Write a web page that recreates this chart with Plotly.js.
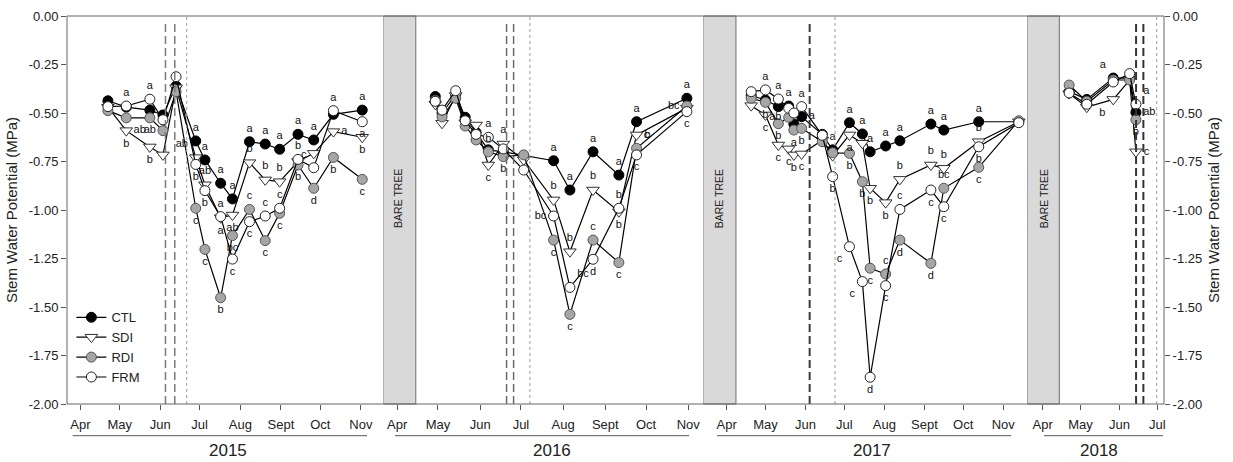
<!DOCTYPE html>
<html><head><meta charset="utf-8">
<script src="https://cdn.plot.ly/plotly-3.0.1.min.js"></script>
<style>body{margin:0;background:#fff}#chart{width:1233px;height:462px}</style>
</head><body><div id="chart"></div>
<script>
// ---------------- DATA ----------------
const monthNames = ['Apr','May','Jun','Jul','Aug','Sept','Oct','Nov'];
const monthNames2018 = ['Apr','May','Jun','Jul'];
const years = ['2015','2016','2017','2018'];
const yTicks = [0,-0.25,-0.5,-0.75,-1,-1.25,-1.5,-1.75,-2];
const yTickText = ['0.00','-0.25','-0.50','-0.75','-1.00','-1.25','-1.50','-1.75','-2.00'];

// 2015
const dates2015 = ['2015-04-22','2015-05-06','2015-05-24','2015-06-03','2015-06-13','2015-06-28','2015-07-05','2015-07-17','2015-07-26','2015-08-08','2015-08-20','2015-08-31','2015-09-14','2015-09-26','2015-10-11','2015-11-02'];
const ctl2015 = [-0.437,-0.47,-0.485,-0.51,-0.361,-0.644,-0.742,-0.862,-0.943,-0.648,-0.66,-0.687,-0.61,-0.639,-0.507,-0.485];
const sdi2015 = [-0.47,-0.591,-0.675,-0.716,-0.37,-0.73,-0.87,-1.04,-1.026,-0.756,-0.845,-0.854,-0.75,-0.708,-0.596,-0.625];
const rdi2015 = [-0.488,-0.525,-0.525,-0.591,-0.39,-0.991,-1.203,-1.452,-1.132,-0.997,-1.158,-1.017,-0.768,-0.888,-0.729,-0.842];
const frm2015 = [-0.467,-0.464,-0.429,-0.535,-0.313,-0.765,-0.90,-1.034,-1.253,-1.06,-1.031,-0.991,-0.739,-0.782,-0.488,-0.545];
const ctlLab2015 = ['','','','','','a','a','a','a','a','a','a','a','a','','a'];
const sdiLab2015 = ['','b','b','','','ab','ab','a','ab','b','b','b','','b','a','b'];
const rdiLab2015 = ['','ab','ab','','','c','c','b','bc','c','c','c','b','d','b','c'];
const frmLab2015 = ['','a','a','','','b','b','a','c','c','c','c','b','c','a','a'];

// 2016
const dates2016 = ['2016-04-29','2016-05-04','2016-05-14','2016-05-21','2016-05-29','2016-06-07','2016-06-18','2016-07-03','2016-07-25','2016-08-06','2016-08-23','2016-09-11','2016-09-24','2016-10-31'];
const ctl2016 = [-0.415,-0.50,-0.405,-0.522,-0.60,-0.69,-0.70,-0.72,-0.746,-0.897,-0.70,-0.82,-0.545,-0.424];
const sdi2016 = [-0.455,-0.553,-0.41,-0.55,-0.562,-0.768,-0.66,-0.742,-0.948,-1.215,-0.897,-1.009,-0.613,-0.475];
const rdi2016 = [-0.435,-0.52,-0.424,-0.567,-0.639,-0.70,-0.725,-0.716,-1.155,-1.538,-1.155,-1.271,-0.682,-0.464];
const frm2016 = [-0.44,-0.485,-0.385,-0.54,-0.61,-0.625,-0.685,-0.794,-1.031,-1.399,-1.254,-0.991,-0.716,-0.493];
const ctlLab2016 = ['','','','','','','','','a','a','a','a','a','a'];
const sdiLab2016 = ['','','','','','c','a','','b','b','b','b','b',''];
const rdiLab2016 = ['','','','','','b','b','','c','c','c','c','c','bc'];
const frmLab2016 = ['','','','','','a','','','bc','bc','d','b','c','c'];

// 2017
const dates2017 = ['2017-04-20','2017-05-01','2017-05-11','2017-05-19','2017-05-23','2017-05-29','2017-06-14','2017-06-22','2017-07-05','2017-07-15','2017-07-21','2017-08-02','2017-08-13','2017-09-06','2017-09-16','2017-10-13','2017-11-13'];
const ctl2017 = [-0.41,-0.433,-0.467,-0.464,-0.557,-0.519,-0.61,-0.69,-0.55,-0.608,-0.70,-0.67,-0.643,-0.557,-0.588,-0.545,-0.545];
const sdi2017 = [-0.462,-0.51,-0.665,-0.685,-0.716,-0.711,-0.64,-0.72,-0.613,-0.656,-0.888,-0.962,-0.842,-0.768,-0.785,-0.648,-0.545];
const rdi2017 = [-0.424,-0.445,-0.555,-0.522,-0.588,-0.579,-0.648,-0.705,-0.708,-0.854,-1.30,-1.33,-1.155,-1.275,-0.888,-0.78,-0.54];
const frm2017 = [-0.39,-0.381,-0.428,-0.476,-0.50,-0.467,-0.615,-0.828,-1.189,-1.369,-1.862,-1.39,-0.997,-0.897,-0.983,-0.674,-0.55];
const ctlLab2017 = ['','','','a','','a','','a','a','a','a','a','a','a','a','a',''];
const sdiLab2017 = ['','c','c','c','b','c','','','a','','b','b','b','b','b','b',''];
const rdiLab2017 = ['','b','b','ab','a','b','','','b','b','c','c','d','d','bc','c',''];
const frmLab2017 = ['','a','a','','','a','','b','c','c','d','c','c','c','c','b',''];

// 2018
const dates2018 = ['2018-04-22','2018-05-06','2018-05-27','2018-06-09','2018-06-14'];
const ctl2018 = [-0.39,-0.43,-0.32,-0.32,-0.497];
const sdi2018 = [-0.40,-0.47,-0.43,-0.33,-0.70];
const rdi2018 = [-0.356,-0.44,-0.33,-0.33,-0.535];
const frm2018 = [-0.397,-0.455,-0.34,-0.297,-0.455];
const ctlLab2018 = ['','','a','','ab'];
const sdiLab2018 = ['','','b','','c'];
const rdiLab2018 = ['','','','','b'];
const frmLab2018 = ['','','','','a'];

// ---------------- STYLE (label placement codes) ----------------
const P = {
  ctl2015: Array(16).fill('t'),
  sdi2015: ['b','b','b','b','b','tl','t','b','b','t','t','t','t','t','r','b'],
  rdi2015: ['b','br','b','b','b','b','b','b','b','t','b','b','b','b','b','b'],
  frm2015: ['t','t','t','t','t','b','b','t','b','b','t','t','t','tl','t','b'],
  ctl2016: Array(14).fill('t'),
  sdi2016: ['b','b','b','b','b','b','t','b','t','t','t','b','r','b'],
  rdi2016: ['b','b','b','b','b','t','b','b','b','b','t','b','tr','l'],
  frm2016: ['t','t','t','t','t','t','t','t','l','tr','b','t','b','b'],
  ctl2017: ['t','t','t','t','t','r','t','t','t','t','t','t','t','t','t','t','t'],
  sdi2017: ['b','b','b','b','b','b','b','b','b','b','b','b','t','t','t','t','b'],
  rdi2017: ['b','b','b','l','b','b','b','b','b','b','b','t','b','b','t','b','b'],
  frm2017: ['t','t','t','t','t','t','t','b','bl','bl','b','b','t','b','b','b','t'],
  ctl2018: ['t','t','tl','t','r'],
  sdi2018: ['b','b','bl','b','r'],
  rdi2018: ['b','b','b','b','b'],
  frm2018: ['t','t','t','t','tr']
};
const posMap = {t:'top center',b:'bottom center',l:'middle left',r:'middle right',tl:'top left',tr:'top right',bl:'bottom left',br:'bottom right'};
const FONT = 'Arial, "Liberation Sans", sans-serif';
const styles = {
  CTL:{symbol:'circle',fill:'#000000',lc:'#000000',size:10},
  SDI:{symbol:'triangle-down',fill:'#ffffff',lc:'#333333',size:11},
  RDI:{symbol:'circle',fill:'#a6a6a6',lc:'#555555',size:10},
  FRM:{symbol:'circle',fill:'#ffffff',lc:'#222222',size:10}
};

const panelData = [
  {x:dates2015, CTL:[ctl2015,ctlLab2015,P.ctl2015], SDI:[sdi2015,sdiLab2015,P.sdi2015], RDI:[rdi2015,rdiLab2015,P.rdi2015], FRM:[frm2015,frmLab2015,P.frm2015]},
  {x:dates2016, CTL:[ctl2016,ctlLab2016,P.ctl2016], SDI:[sdi2016,sdiLab2016,P.sdi2016], RDI:[rdi2016,rdiLab2016,P.rdi2016], FRM:[frm2016,frmLab2016,P.frm2016]},
  {x:dates2017, CTL:[ctl2017,ctlLab2017,P.ctl2017], SDI:[sdi2017,sdiLab2017,P.sdi2017], RDI:[rdi2017,rdiLab2017,P.rdi2017], FRM:[frm2017,frmLab2017,P.frm2017]},
  {x:dates2018, CTL:[ctl2018,ctlLab2018,P.ctl2018], SDI:[sdi2018,sdiLab2018,P.sdi2018], RDI:[rdi2018,rdiLab2018,P.rdi2018], FRM:[frm2018,frmLab2018,P.frm2018]}
];
const seriesNames = ['CTL','SDI','RDI','FRM'];
const axisIds = ['x','x2','x3','x4'];

const traces = [];
const textTraces = [];
panelData.forEach((pd, i) => {
  seriesNames.forEach(name => {
    const st = styles[name];
    const [vals, labs, pos] = pd[name];
    traces.push({
      type:'scatter', mode:'lines+markers', name:name, legendgroup:name,
      showlegend: i === 0, x:pd.x, y:vals, xaxis:axisIds[i], yaxis:'y',
      line:{color:'#000', width:1.2},
      marker:{symbol:st.symbol, color:st.fill, size:st.size, line:{color:st.lc, width:1}},
      hoverinfo:'skip'
    });
    textTraces.push({
      type:'scatter', mode:'markers+text', showlegend:false, x:pd.x, y:vals,
      xaxis:axisIds[i], yaxis:'y', text:labs, textposition:pos.map(p => posMap[p]),
      textfont:{family:FONT, size:11, color:'#111'},
      marker:{size:st.size, color:'rgba(0,0,0,0)', line:{width:0}},
      hoverinfo:'skip', cliponaxis:false
    });
  });
});
// invisible helper so the right-hand axis is drawn
textTraces.push({type:'scatter', mode:'markers', showlegend:false, x:dates2018, y:ctl2018,
  xaxis:'x4', yaxis:'y2', marker:{size:1, color:'rgba(0,0,0,0)'}, hoverinfo:'skip'});

// ---------------- LAYOUT ----------------
const domains = [[0,0.2885],[0.2885,0.5802],[0.5802,0.8754],[0.8754,1]];
const ranges = [
  ['2015-03-21 19:00','2015-11-18 05:00'],
  ['2016-03-21 22:00','2016-11-12 05:00'],
  ['2017-03-14 02:00','2017-11-19 14:00'],
  ['2018-03-19 19:00','2018-07-06 07:00']
];
const bandEnd = [null,'2016-04-14 16:00','2017-04-08 05:00','2018-04-14 05:00'];
const bandMid = [null,'2016-04-02','2017-03-26','2018-04-02'];
const dashes = [
  {d:['2015-06-04 22:00','2015-06-12 00:00'], dot:'2015-06-21 03:00', c:'#7a7a7a', w:1.5},
  {d:['2016-06-20 10:00','2016-06-25 14:00'], dot:'2016-07-07 14:00', c:'#6a6a6a', w:1.5},
  {d:['2017-06-04 05:00'], dot:'2017-06-23 20:00', c:'#3a3a3a', w:2},
  {d:['2018-06-14 03:00','2018-06-19 22:00'], dot:'2018-06-30 12:00', c:'#333333', w:2}
];
const yearLine = [[0.018,0.948],[0.036,0.955],[0.042,0.95],[0.122,0.993]];
const yearLabelX = [0.508,0.527,0.52,0.524];

const yAxisCommon = {range:[-2,0], tickvals:yTicks, ticktext:yTickText, ticks:'outside', ticklen:5, tickcolor:'#555',
  showgrid:false, zeroline:false, showline:false, tickfont:{size:13},
  title:{text:'Stem Water Potential (MPa)', font:{size:15}, standoff:7}};

const layout = {
  width:1233, height:462,
  margin:{l:67, r:69, t:16, b:58},
  paper_bgcolor:'#ffffff', plot_bgcolor:'#ffffff',
  font:{family:FONT, color:'#222', size:12},
  showlegend:true,
  legend:{x:0.004, y:0.262, xanchor:'left', yanchor:'top', bgcolor:'rgba(0,0,0,0)',
          font:{size:13, family:FONT, color:'#222'}, tracegroupgap:0, itemwidth:30},
  yaxis:Object.assign({anchor:'x', side:'left'}, yAxisCommon),
  yaxis2:Object.assign({overlaying:'y', side:'right', anchor:'free', position:1}, yAxisCommon),
  shapes:[], annotations:[]
};

years.forEach((yr, i) => {
  const names = i === 3 ? monthNames2018 : monthNames;
  const tv = names.map((m, k) => `${yr}-${String(4 + k).padStart(2,'0')}-01`);
  layout['xaxis' + (i === 0 ? '' : (i + 1))] = {
    type:'date', domain:domains[i], range:ranges[i], anchor:'y',
    tickvals:tv, ticktext:names, ticks:'outside', ticklen:5, tickcolor:'#555',
    showgrid:false, zeroline:false, showline:false, tickfont:{size:13}, ticklabelstandoff:3
  };
  const xr = axisIds[i];
  if (bandEnd[i]) {
    layout.shapes.push({type:'rect', xref:xr, yref:'paper', x0:ranges[i][0], x1:bandEnd[i], y0:0, y1:1,
      fillcolor:'#d9d9d9', line:{color:'#6e6e6e', width:1}, layer:'below'});
    layout.annotations.push({xref:xr, yref:'y', x:bandMid[i], y:-0.94, text:'BARE TREE', textangle:-90,
      showarrow:false, font:{size:10.5, family:FONT, color:'#222'}});
  }
  dashes[i].d.forEach(d => layout.shapes.push({type:'line', xref:xr, yref:'paper', x0:d, x1:d, y0:0, y1:0.99,
    line:{color:dashes[i].c, width:dashes[i].w, dash:'8px,4px'}}));
  layout.shapes.push({type:'line', xref:xr, yref:'paper', x0:dashes[i].dot, x1:dashes[i].dot, y0:0, y1:1,
    line:{color:'#9a9a9a', width:1, dash:'dot'}});
  layout.shapes.push({type:'line', xref:xr + ' domain', yref:'paper', x0:yearLine[i][0], x1:yearLine[i][1],
    y0:-0.0817, y1:-0.0817, line:{color:'#555', width:1}});
  layout.annotations.push({xref:xr + ' domain', yref:'paper', x:yearLabelX[i], y:-0.119, text:yr,
    showarrow:false, yanchor:'middle', font:{size:17, family:FONT, color:'#222'}});
});
layout.shapes.push({type:'rect', xref:'paper', yref:'paper', x0:0, x1:1, y0:0, y1:1, line:{color:'#666', width:1}, layer:'above'});

Plotly.newPlot('chart', traces.concat(textTraces), layout, {displayModeBar:false, staticPlot:true});
</script></body></html>
